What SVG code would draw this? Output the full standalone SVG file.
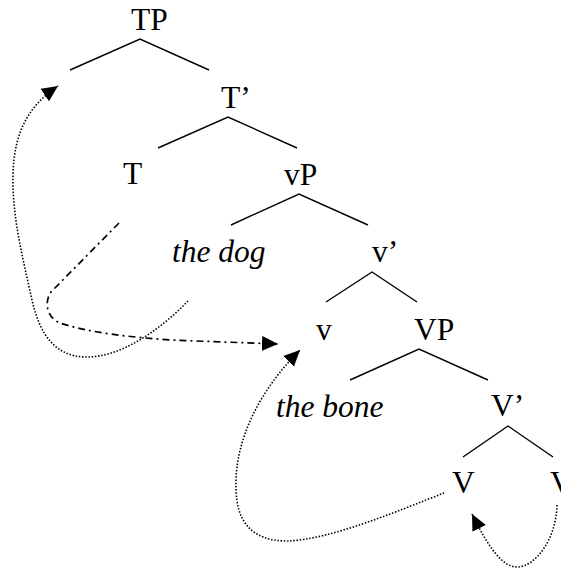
<svg xmlns="http://www.w3.org/2000/svg" width="561" height="571" viewBox="0 0 561 571">
<style>
.lbl{font-family:"Liberation Serif","Times New Roman",serif;font-size:31.5px;fill:#000}
.it{font-style:italic}
.br{stroke:#000;stroke-width:1.4;fill:none}
.dot{stroke:#000;stroke-width:1.6;fill:none;stroke-dasharray:1.5 1.7}
.dd{stroke:#000;stroke-width:1.7;fill:none;stroke-dasharray:7 4 2 4}
</style>
<defs>
<marker id="ah" markerUnits="userSpaceOnUse" markerWidth="18" markerHeight="16" refX="16" refY="7.5" orient="auto">
<path d="M0,0 L16,7.5 L0,15 z" fill="#000"/>
</marker>
</defs>
<g id="TP"><text class="lbl" x="131" y="30">TP</text></g>
<g id="Tbar"><text class="lbl" x="221" y="108">T’</text></g>
<g id="T"><text class="lbl" x="123" y="184">T</text></g>
<g id="vP"><text class="lbl" x="284" y="185">vP</text></g>
<g id="thedog"><text class="lbl it" x="172" y="262">the dog</text></g>
<g id="vbar"><text class="lbl" x="372" y="262">v’</text></g>
<g id="v"><text class="lbl" x="316" y="340">v</text></g>
<g id="VP"><text class="lbl" x="414" y="340">VP</text></g>
<g id="thebone"><text class="lbl it" x="276" y="417">the bone</text></g>
<g id="Vbar"><text class="lbl" x="491" y="416">V’</text></g>
<g id="V"><text class="lbl" x="452" y="493">V</text></g>
<g id="V2"><text class="lbl" x="550" y="493">V</text></g>
<g id="branches">
<path class="br" d="M70,70 L140,39 L209,70"/>
<path class="br" d="M158,148 L228,117 L297,148"/>
<path class="br" d="M231,225 L299,194 L368,225"/>
<path class="br" d="M326,302 L372,272 L417,302"/>
<path class="br" d="M350,380 L419,349 L488,380"/>
<path class="br" d="M463,457 L508,426 L553,457"/>
</g>
<g id="connectors">
<path class="dot" marker-end="url(#ah)" d="M188,301 C160,330 120,358 85,357 C55,356 40,335 32,300 C22,255 12,215 13,175 C14,130 30,105 58,86"/>
<path class="dd" marker-end="url(#ah)" d="M119,223 L50,293 C44,305 48,318 60,323 C90,333 130,337 170,340 L278,344"/>
<path class="dot" marker-end="url(#ah)" d="M444,493 C400,510 330,540 287,541 C250,541 237,520 236,490 C234,440 260,390 300,350"/>
<path class="dot" marker-end="url(#ah)" d="M557,505 C556,540 535,567 517,567 C500,567 485,540 472,514"/>
</g>
</svg>
